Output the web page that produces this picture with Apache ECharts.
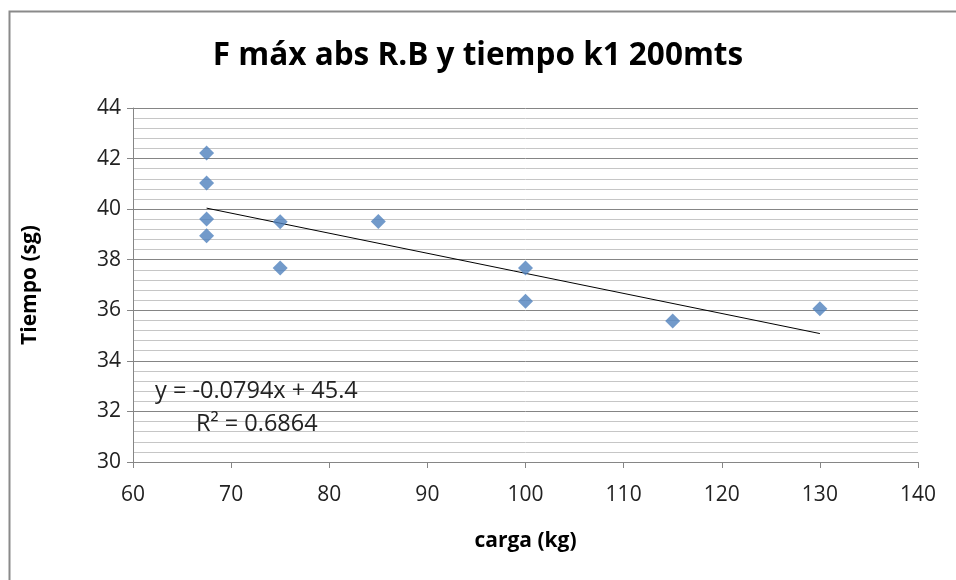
<!DOCTYPE html>
<html>
<head>
<meta charset="utf-8">
<script src="https://cdn.jsdelivr.net/npm/echarts@6/dist/echarts.min.js"></script>
<style>html,body{margin:0;padding:0;background:#fff;}#c{width:956px;height:580px;}</style>
</head>
<body>
<div id="c"></div>
<script>
var titleText = 'F máx abs R.B y tiempo k1 200mts';
var xName = 'carga (kg)';
var yName = 'Tiempo (sg)';
var cargaKg = [67.5, 67.5, 67.5, 67.5, 75, 75, 85, 100, 100, 115, 130];
var tiempoSg = [42.22, 41.03, 39.61, 38.95, 39.5, 37.67, 39.51, 37.67, 36.36, 35.58, 36.06];
var trendX = [67.5, 130];
var trendY = [40.04, 35.08];
var equationText = 'y = -0.0794x + 45.4';
var r2Text = 'R² = 0.6864';

var FONT = '"Open Sans", "Noto Sans", sans-serif';
var chart = echarts.init(document.getElementById('c'), null, {renderer: 'canvas'});
chart.setOption({
  animation: false,
  backgroundColor: '#fff',
  title: {
    text: titleText, left: 'center', top: 35,
    textStyle: {fontFamily: FONT, fontSize: 31.5, fontWeight: 'bold', color: '#000'}
  },
  grid: {left: 133, right: 38, top: 108, bottom: 118},
  xAxis: {
    type: 'value', min: 60, max: 140, interval: 10,
    name: xName, nameLocation: 'middle', nameGap: 69,
    nameTextStyle: {fontFamily: FONT, fontSize: 21, fontWeight: 'bold', color: '#000'},
    axisLine: {show: true, lineStyle: {color: '#868686', width: 1}},
    axisTick: {show: true, inside: false, length: 6, lineStyle: {color: '#868686'}},
    axisLabel: {fontFamily: FONT, fontSize: 21, color: '#222', margin: 23},
    splitLine: {show: false}
  },
  yAxis: {
    type: 'value', min: 30, max: 44, interval: 2,
    name: yName, nameLocation: 'middle', nameGap: 92,
    nameTextStyle: {fontFamily: FONT, fontSize: 21, fontWeight: 'bold', color: '#000'},
    axisLine: {show: true, lineStyle: {color: '#868686', width: 1}},
    axisTick: {show: true, inside: false, length: 6, lineStyle: {color: '#868686'}},
    axisLabel: {fontFamily: FONT, fontSize: 21, color: '#222', margin: 12},
    splitLine: {show: true, lineStyle: {color: '#858585', width: 1}},
    minorTick: {show: false, splitNumber: 5},
    minorSplitLine: {show: true, lineStyle: {color: '#c6c6c6', width: 1}}
  },
  graphic: [
    {type: 'rect', left: 7, top: 9, shape: {width: 960, height: 600}, style: {fill: 'none', stroke: '#8a8a8a', lineWidth: 2}, silent: true, z: 100},
    {type: 'text', left: 155, top: 379, z: 10, style: {text: equationText, font: '23.5px ' + FONT, fill: '#222'}},
    {type: 'text', left: 196, top: 412, z: 10, style: {text: r2Text, font: '23.5px ' + FONT, fill: '#222'}}
  ],
  series: [
    {
      type: 'line', data: trendX.map(function (x, i) { return [x, trendY[i]]; }),
      showSymbol: false, symbol: 'none', lineStyle: {color: '#000', width: 1}, z: 1, silent: true
    },
    {
      type: 'scatter', data: cargaKg.map(function (x, i) { return [x, tiempoSg[i]]; }),
      symbol: 'diamond', symbolSize: 15, itemStyle: {color: '#4F81BD'}, z: 3
    }
  ]
});
</script>
</body>
</html>
